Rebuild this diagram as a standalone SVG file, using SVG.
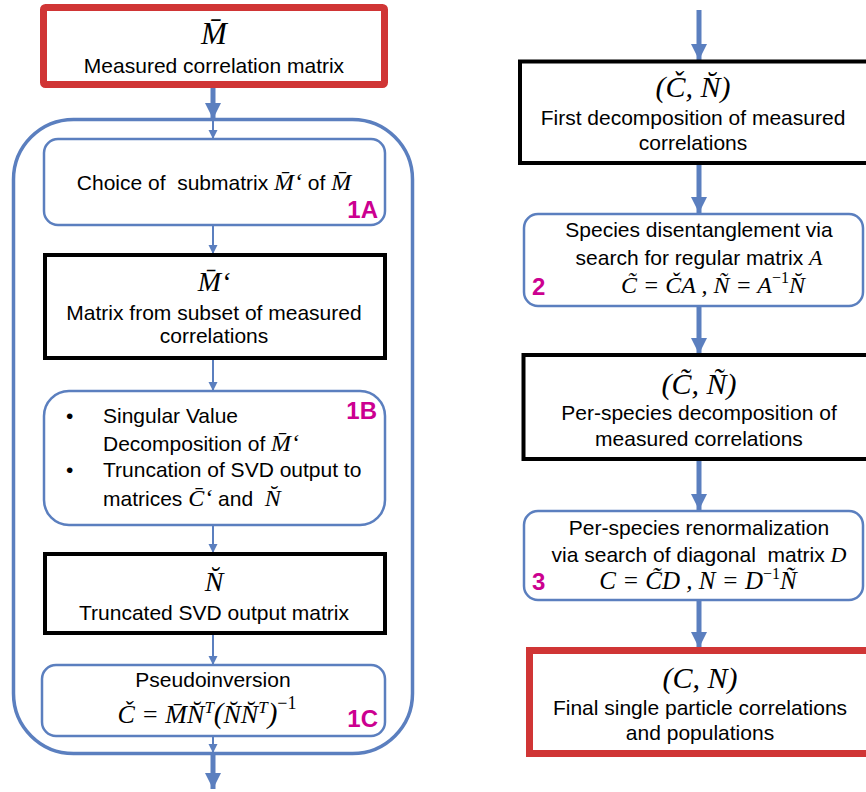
<svg xmlns="http://www.w3.org/2000/svg" width="866" height="792" viewBox="0 0 866 792">
<style>
.s{font-family:'Liberation Sans',Arial,sans-serif;fill:#000;font-size:21px;}
.m{font-family:'Liberation Serif','Times New Roman',serif;font-style:italic;fill:#000;}
.up{font-style:normal;}
.lab{font-family:'Liberation Sans',Arial,sans-serif;font-weight:bold;fill:#CC0090;font-size:24px;}
.red{fill:#fff;stroke:#D03535;stroke-width:7;}
.blk{fill:#fff;stroke:#000;stroke-width:4;}
.blu{fill:#fff;stroke:#5B7FBF;stroke-width:2.5;}
.thick{stroke:#5B7FBF;stroke-width:5;fill:none;}
.thin{stroke:#5B7FBF;stroke-width:2;fill:none;}
</style>
<defs>
<marker id="ah" markerUnits="userSpaceOnUse" markerWidth="16" markerHeight="16" refX="16" refY="8" orient="auto">
<path d="M0,0 L16,8 L0,16 z" fill="#5B7FBF"/>
</marker>
<marker id="ahs" markerUnits="userSpaceOnUse" markerWidth="10" markerHeight="10" refX="9" refY="5" orient="auto">
<path d="M0,0.5 L9,5 L0,9.5 z" fill="#5B7FBF"/>
</marker>
</defs>

<g id="container">
<rect x="13.5" y="119.5" width="399" height="634" rx="60" fill="none" stroke="#5B7FBF" stroke-width="3.5"/>
</g>

<g id="connectors">
<line class="thick" x1="213" y1="88" x2="213" y2="119" marker-end="url(#ah)"/>
<line class="thin" x1="213" y1="121" x2="213" y2="139" marker-end="url(#ahs)"/>
<line class="thin" x1="213" y1="225" x2="213" y2="254" marker-end="url(#ahs)"/>
<line class="thin" x1="213" y1="358" x2="213" y2="391" marker-end="url(#ahs)"/>
<line class="thin" x1="213" y1="525" x2="213" y2="553" marker-end="url(#ahs)"/>
<line class="thin" x1="213" y1="633" x2="213" y2="665" marker-end="url(#ahs)"/>
<line class="thin" x1="213" y1="736" x2="213" y2="753" marker-end="url(#ahs)"/>
<line class="thick" x1="213" y1="754" x2="213" y2="789" marker-end="url(#ah)"/>
<line class="thick" x1="699" y1="10" x2="699" y2="60" marker-end="url(#ah)"/>
<line class="thick" x1="699" y1="163" x2="699" y2="213" marker-end="url(#ah)"/>
<line class="thick" x1="699" y1="306" x2="699" y2="354" marker-end="url(#ah)"/>
<line class="thick" x1="699" y1="459" x2="699" y2="510" marker-end="url(#ah)"/>
<line class="thick" x1="699" y1="600" x2="699" y2="648" marker-end="url(#ah)"/>
</g>

<g id="measured">
<rect class="red" x="43.5" y="7.5" width="341" height="77" rx="2"/>
<text class="m" x="214" y="44" text-anchor="middle" font-size="31">M&#x0304;</text>
<text class="s" x="214" y="73" text-anchor="middle">Measured correlation matrix</text>
</g>

<g id="step1A">
<rect class="blu" x="44" y="139" width="341" height="86" rx="14"/>
<text class="s" x="214" y="190" text-anchor="middle" xml:space="preserve">Choice of  submatrix <tspan class="m" font-size="24">M&#x0304;‘</tspan> of <tspan class="m" font-size="24">M&#x0304;</tspan></text>
<text class="lab" x="378" y="218" text-anchor="end">1A</text>
</g>

<g id="submatrix">
<rect class="blk" x="45" y="255" width="340" height="103"/>
<text class="m" x="214" y="291" text-anchor="middle" font-size="28">M&#x0304;‘</text>
<text class="s" x="214" y="320" text-anchor="middle">Matrix from subset of measured</text>
<text class="s" x="214" y="343" text-anchor="middle">correlations</text>
</g>

<g id="step1B">
<rect class="blu" x="44" y="391" width="341" height="134" rx="25"/>
<text class="lab" x="377" y="419" text-anchor="end">1B</text>
<text class="s" x="66" y="423">•</text>
<text class="s" x="66" y="477">•</text>
<text class="s" x="103" y="423">Singular Value</text>
<text class="s" x="103" y="451">Decomposition of <tspan class="m" font-size="24">M&#x0304;‘</tspan></text>
<text class="s" x="103" y="477">Truncation of SVD output to</text>
<text class="s" x="103" y="506" xml:space="preserve">matrices <tspan class="m" font-size="24">C&#x0304;‘</tspan> and  <tspan class="m" font-size="24">N&#x0306;</tspan></text>
</g>

<g id="truncated">
<rect class="blk" x="45" y="554" width="340" height="79"/>
<text class="m" x="214" y="591" text-anchor="middle" font-size="28">N&#x0306;</text>
<text class="s" x="214" y="620" text-anchor="middle">Truncated SVD output matrix</text>
</g>

<g id="step1C">
<rect class="blu" x="42" y="665" width="343" height="71" rx="14"/>
<text class="s" x="213" y="687" text-anchor="middle">Pseudoinversion</text>
<text class="m" x="207" y="723" text-anchor="middle" font-size="26">Č = M&#x0304;N&#x0306;<tspan dy="-10" font-size="17">T</tspan><tspan dy="10" font-size="29">(</tspan>N&#x0306;N&#x0306;<tspan dy="-10" font-size="17">T</tspan><tspan dy="10" font-size="29">)</tspan><tspan class="up" dy="-14" font-size="18">−1</tspan></text>
<text class="lab" x="378" y="727" text-anchor="end">1C</text>
</g>

<g id="firstdecomp">
<rect class="blk" x="520" y="61.5" width="360" height="101.5"/>
<text class="m" x="693" y="97" text-anchor="middle" font-size="30">(Č, N&#x0306;)</text>
<text class="s" x="693" y="125" text-anchor="middle">First decomposition of measured</text>
<text class="s" x="693" y="150" text-anchor="middle">correlations</text>
</g>

<g id="step2">
<rect class="blu" x="524" y="214" width="339" height="92" rx="14"/>
<text class="s" x="699" y="237" text-anchor="middle">Species disentanglement via</text>
<text class="s" x="699" y="265" text-anchor="middle">search for regular matrix <tspan class="m" font-size="22">A</tspan></text>
<text class="m" x="713" y="293" text-anchor="middle" font-size="24">C&#x0303; = ČA , Ñ = A<tspan class="up" dy="-10" font-size="16">−1</tspan><tspan dy="10">N&#x0306;</tspan></text>
<text class="lab" x="532" y="295" font-size="25">2</text>
</g>

<g id="perspecies">
<rect class="blk" x="523.5" y="355" width="360" height="104"/>
<text class="m" x="699" y="394" text-anchor="middle" font-size="30">(C&#x0303;, Ñ)</text>
<text class="s" x="699" y="420" text-anchor="middle">Per-species decomposition of</text>
<text class="s" x="699" y="446" text-anchor="middle">measured correlations</text>
</g>

<g id="step3">
<rect class="blu" x="524" y="511" width="339" height="89" rx="14"/>
<text class="s" x="699" y="535" text-anchor="middle">Per-species renormalization</text>
<text class="s" x="699" y="562" text-anchor="middle" xml:space="preserve">via search of diagonal  matrix <tspan class="m" font-size="22">D</tspan></text>
<text class="m" x="698" y="589" text-anchor="middle" font-size="25">C = C&#x0303;D , N = D<tspan class="up" dy="-10" font-size="16">−1</tspan><tspan dy="10">Ñ</tspan></text>
<text class="lab" x="532" y="590" font-size="25">3</text>
</g>

<g id="final">
<rect class="red" x="529.5" y="650.5" width="360" height="103"/>
<text class="m" x="700" y="688" text-anchor="middle" font-size="30">(C, N)</text>
<text class="s" x="700" y="715" text-anchor="middle">Final single particle correlations</text>
<text class="s" x="700" y="740" text-anchor="middle">and populations</text>
</g>
</svg>
